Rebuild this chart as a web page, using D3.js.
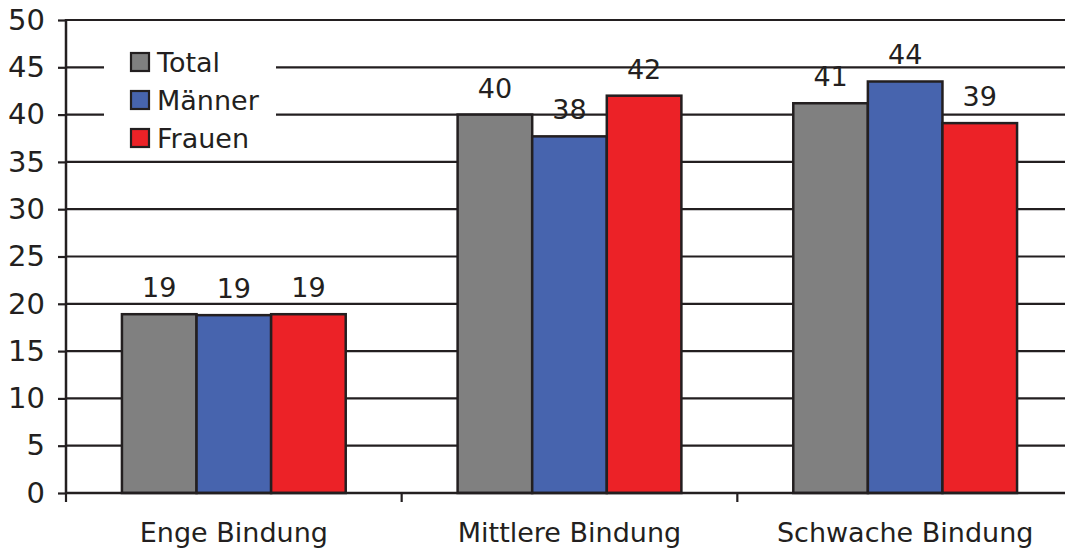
<!DOCTYPE html>
<html><head><meta charset="utf-8">
<script src="https://cdn.jsdelivr.net/npm/d3@7"></script>
<style>body{margin:0;background:#fff}svg{display:block}text{font-family:"DejaVu Sans",Verdana,sans-serif;fill:#231f20}</style>
</head><body><svg id="c" width="1065" height="549"></svg>
<script>
const categories = ["Enge Bindung", "Mittlere Bindung", "Schwache Bindung"];
const seriesNames = ["Total", "Männer", "Frauen"];
const totalValues = [18.9, 40.0, 41.2];
const maennerValues = [18.8, 37.7, 43.5];
const frauenValues = [18.9, 42.0, 39.1];
const labelValues = [[19, 19, 19], [40, 38, 42], [41, 44, 39]];
const yTicks = [0, 5, 10, 15, 20, 25, 30, 35, 40, 45, 50];
const colors = ["#808080", "#4764ae", "#ec2227"];

const series = [totalValues, maennerValues, frauenValues];
const svg = d3.select("#c");
const mLeft = 66, mRight = 1073, mTop = 20, mBottom = 493;
const dark = "#231f20";
const fs = 27;

const x = d3.scaleBand().domain(categories).range([mLeft, mRight]).paddingInner(0).paddingOuter(0);
const y = d3.scaleLinear().domain([0, 50]).range([mBottom, mTop]);
const inner = d3.scaleBand().domain(seriesNames).range([0, x.bandwidth()]).paddingOuter(0.75).paddingInner(0);

// gridlines
svg.append("g").selectAll("line").data(yTicks.filter(t => t > 0)).join("line")
  .attr("x1", mLeft).attr("x2", mRight).attr("y1", d => y(d)).attr("y2", d => y(d))
  .attr("stroke", dark).attr("stroke-width", 2.2);

// legend background
svg.append("rect").attr("x", 104).attr("y", 44).attr("width", 172).attr("height", 112).attr("fill", "#fff");

// bars
const groups = svg.append("g").selectAll("g").data(categories).join("g")
  .attr("transform", d => `translate(${x(d)},0)`);
groups.each(function(cat, ci) {
  const g = d3.select(this);
  seriesNames.forEach((s, si) => {
    const v = series[si][ci];
    g.append("rect").attr("x", inner(s)).attr("y", y(v))
      .attr("width", inner.bandwidth()).attr("height", y(0) - y(v))
      .attr("fill", colors[si]).attr("stroke", dark).attr("stroke-width", 2.5);
    g.append("text").attr("x", inner(s) + inner.bandwidth() / 2).attr("y", y(v) - 17)
      .attr("text-anchor", "middle").attr("font-size", fs).text(labelValues[ci][si]);
  });
});

// y axis
const yAxis = d3.axisLeft(y).tickValues(yTicks).tickSize(8).tickPadding(13);
const ya = svg.append("g").attr("transform", `translate(${mLeft},0)`).call(yAxis);
ya.select(".domain").attr("stroke", dark).attr("stroke-width", 2.5).attr("d", `M0,${mTop-1}V${mBottom}`);
ya.selectAll(".tick line").attr("stroke", dark).attr("stroke-width", 2.2);
ya.selectAll(".tick text").attr("font-size", 29).attr("fill", dark).style("font-family", '"DejaVu Sans",Verdana,sans-serif');

// x axis
const xAxis = d3.axisBottom(x).tickSize(0).tickPadding(30);
const xa = svg.append("g").attr("transform", `translate(0,${mBottom})`).call(xAxis);
xa.select(".domain").attr("stroke", dark).attr("stroke-width", 2.5).attr("d", `M${mLeft},0H${mRight}`);
xa.selectAll(".tick text").attr("font-size", fs).attr("fill", dark).style("font-family", '"DejaVu Sans",Verdana,sans-serif');
// category boundary ticks
svg.append("g").selectAll("line").data(categories).join("line")
  .attr("x1", d => x(d)).attr("x2", d => x(d)).attr("y1", mBottom).attr("y2", mBottom + 9)
  .attr("stroke", dark).attr("stroke-width", 2.2);

// legend
const lg = svg.append("g").selectAll("g").data(seriesNames).join("g")
  .attr("transform", (d, i) => `translate(131,${53 + i * 38})`);
lg.append("rect").attr("width", 18).attr("height", 18).attr("fill", (d, i) => colors[i])
  .attr("stroke", dark).attr("stroke-width", 2.2);
lg.append("text").attr("x", 26).attr("y", 19).attr("font-size", fs).text(d => d);
</script></body></html>
